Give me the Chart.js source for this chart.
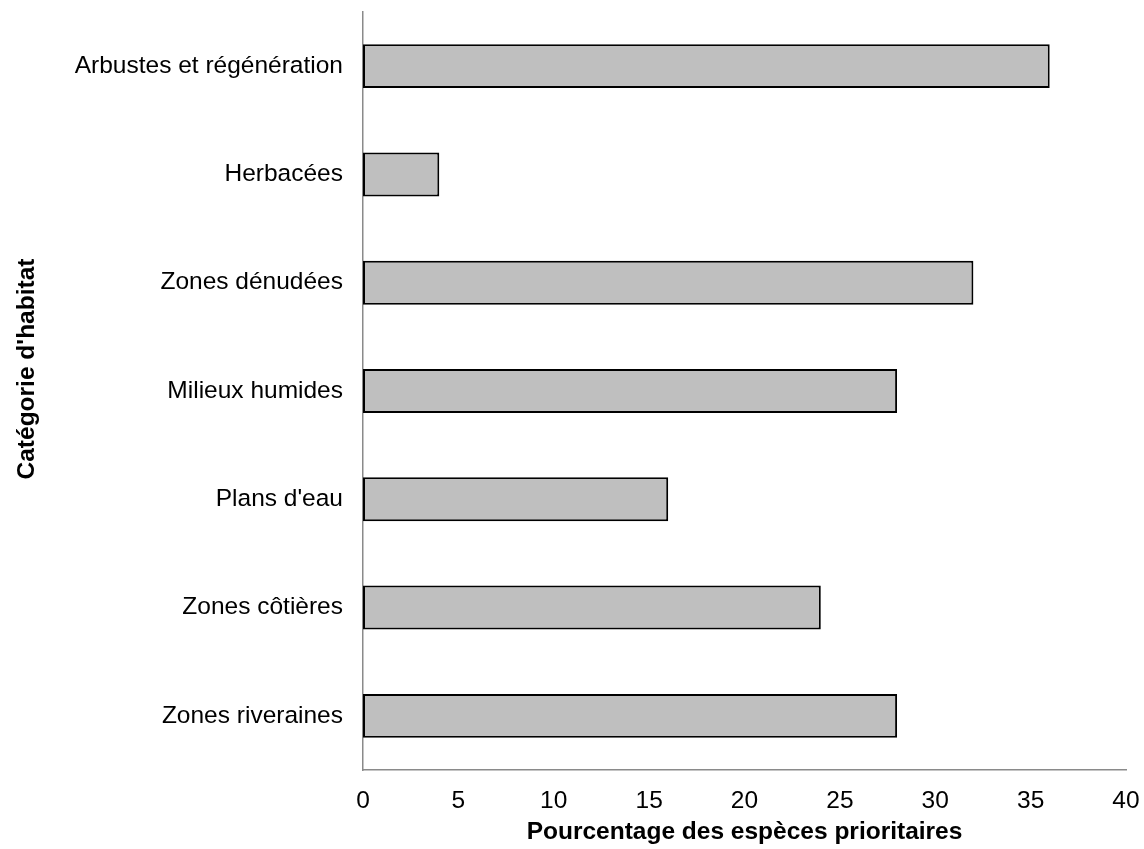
<!DOCTYPE html>
<html>
<head>
<meta charset="utf-8">
<script src="https://cdn.jsdelivr.net/npm/chart.js@4"></script>
<style>
html,body{margin:0;padding:0;background:#fff;}
canvas{display:block;}
</style>
</head>
<body>
<canvas id="c" width="1144" height="849"></canvas>
<script>
const categories = ["Arbustes et régénération","Herbacées","Zones dénudées","Milieux humides","Plans d'eau","Zones côtières","Zones riveraines"];
const values = [36, 4, 32, 28, 16, 24, 28];
const xTicks = [0, 5, 10, 15, 20, 25, 30, 35, 40];
const xTitle = "Pourcentage des espèces prioritaires";
const yTitle = "Catégorie d'habitat";

const FONT = "'Liberation Sans', Arial, sans-serif";

const yTitlePlugin = {
  id: 'yTitle',
  afterDraw(chart) {
    const ctx = chart.ctx;
    ctx.save();
    ctx.translate(33.5, 369);
    ctx.rotate(-Math.PI / 2);
    ctx.font = "bold 24.5px " + FONT;
    ctx.fillStyle = '#000';
    ctx.textAlign = 'center';
    ctx.textBaseline = 'alphabetic';
    ctx.fillText(yTitle, 0, 0);
    ctx.restore();
  }
};

new Chart(document.getElementById('c'), {
  type: 'bar',
  data: {
    labels: categories,
    datasets: [{
      data: values,
      backgroundColor: '#bfbfbf',
      borderColor: '#000',
      borderWidth: 2,
      borderSkipped: false,
      barPercentage: 0.406,
      categoryPercentage: 1
    }]
  },
  options: {
    indexAxis: 'y',
    responsive: false,
    animation: false,
    devicePixelRatio: 1,
    layout: { padding: { top: 12, right: 18, left: 0, bottom: 0 } },
    plugins: { legend: { display: false }, tooltip: { enabled: false } },
    scales: {
      x: {
        min: 0, max: 40,
        afterBuildTicks(scale) { scale.ticks = xTicks.map(v => ({ value: v })); },
        afterFit(scale) { scale.height = 79; scale.paddingLeft = 0; scale.paddingRight = 0; },
        grid: { display: false, drawTicks: false },
        border: { display: true, color: '#8a8a8a', width: 1.5 },
        ticks: { color: '#000', padding: 17, font: { family: FONT, size: 24.5 } },
        title: { display: true, text: xTitle, color: '#000', padding: { top: 0, bottom: 2 }, font: { family: FONT, size: 24.5, weight: 'bold' } }
      },
      y: {
        afterFit(scale) { scale.width = 363; scale.paddingTop = 0; scale.paddingBottom = 0; },
        grid: { display: false, drawTicks: false },
        border: { display: true, color: '#8a8a8a', width: 1.5 },
        ticks: { color: '#000', padding: 20, font: { family: FONT, size: 24.5 } }
      }
    }
  },
  plugins: [yTitlePlugin]
});
</script>
</body>
</html>
